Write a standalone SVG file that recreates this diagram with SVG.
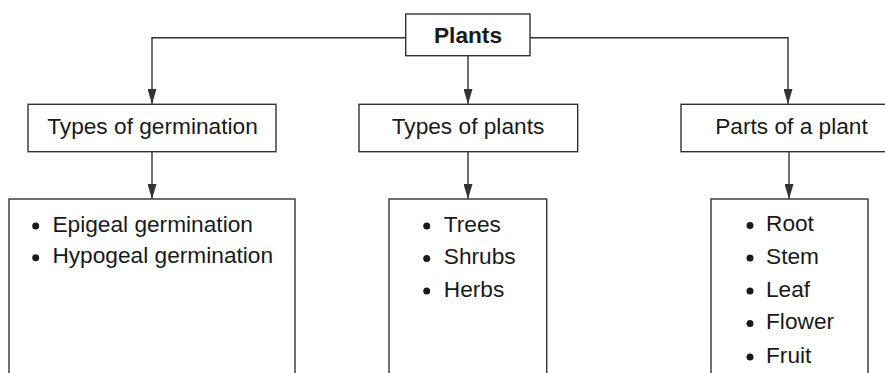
<svg xmlns="http://www.w3.org/2000/svg" width="885" height="373" viewBox="0 0 885 373">
<style>
.box{fill:#fff;stroke:#333;stroke-width:1.4}
.t{font-family:"Liberation Sans",Arial,sans-serif;font-size:22.7px;fill:#1a1a1a}
.b{font-weight:bold}
.c{text-anchor:middle}
.ln{fill:none;stroke:#333;stroke-width:1.4}
.dot{fill:#1a1a1a}
</style>
<defs>
<marker id="arr" viewBox="0 0 15 9" refX="15" refY="4.5" markerWidth="15" markerHeight="9" markerUnits="userSpaceOnUse" orient="auto">
<path d="M0,0 L15,4.5 L0,9 Z" fill="#333"/>
</marker>
</defs>
<g id="connectors">
<path class="ln" d="M405.7,37.7 H152 V104" marker-end="url(#arr)"/>
<path class="ln" d="M468,55.7 V104" marker-end="url(#arr)"/>
<path class="ln" d="M530,37.7 H788 V104" marker-end="url(#arr)"/>
<path class="ln" d="M152,152 V199" marker-end="url(#arr)"/>
<path class="ln" d="M468,152 V199" marker-end="url(#arr)"/>
<path class="ln" d="M789,152 V199" marker-end="url(#arr)"/>
</g>
<g id="plants">
<rect class="box" x="405.7" y="14" width="124.3" height="41.7"/>
<text class="t b c" x="468" y="42.5">Plants</text>
</g>
<g id="types-germination">
<rect class="box" x="28" y="104.3" width="248" height="47.4"/>
<text class="t c" x="152.5" y="134">Types of germination</text>
</g>
<g id="types-plants">
<rect class="box" x="359" y="104.3" width="218.7" height="47.4"/>
<text class="t c" x="468" y="134">Types of plants</text>
</g>
<g id="parts-plant">
<rect class="box" x="681" y="104.3" width="210" height="47.4"/>
<text class="t c" x="791.5" y="134">Parts of a plant</text>
</g>
<g id="germination-list">
<rect class="box" x="9" y="199" width="286" height="190"/>
<circle class="dot" cx="35.7" cy="226" r="3.5"/>
<text class="t" x="52.4" y="231.7">Epigeal germination</text>
<circle class="dot" cx="35.7" cy="257.7" r="3.5"/>
<text class="t" x="52.4" y="263.3">Hypogeal germination</text>
</g>
<g id="plants-list">
<rect class="box" x="389" y="199" width="157.7" height="190"/>
<circle class="dot" cx="426.7" cy="226" r="3.5"/>
<text class="t" x="443.8" y="231.7">Trees</text>
<circle class="dot" cx="426.7" cy="258.5" r="3.5"/>
<text class="t" x="443.8" y="264.3">Shrubs</text>
<circle class="dot" cx="426.7" cy="291" r="3.5"/>
<text class="t" x="443.8" y="297">Herbs</text>
</g>
<g id="parts-list">
<rect class="box" x="711" y="199" width="157" height="190"/>
<circle class="dot" cx="750" cy="225.5" r="3.5"/>
<text class="t" x="766" y="231.3">Root</text>
<circle class="dot" cx="750" cy="258" r="3.5"/>
<text class="t" x="766" y="264">Stem</text>
<circle class="dot" cx="750" cy="291" r="3.5"/>
<text class="t" x="766" y="296.7">Leaf</text>
<circle class="dot" cx="750" cy="323.5" r="3.5"/>
<text class="t" x="766" y="329.3">Flower</text>
<circle class="dot" cx="750" cy="357" r="3.5"/>
<text class="t" x="766" y="362.7">Fruit</text>
</g>
</svg>
